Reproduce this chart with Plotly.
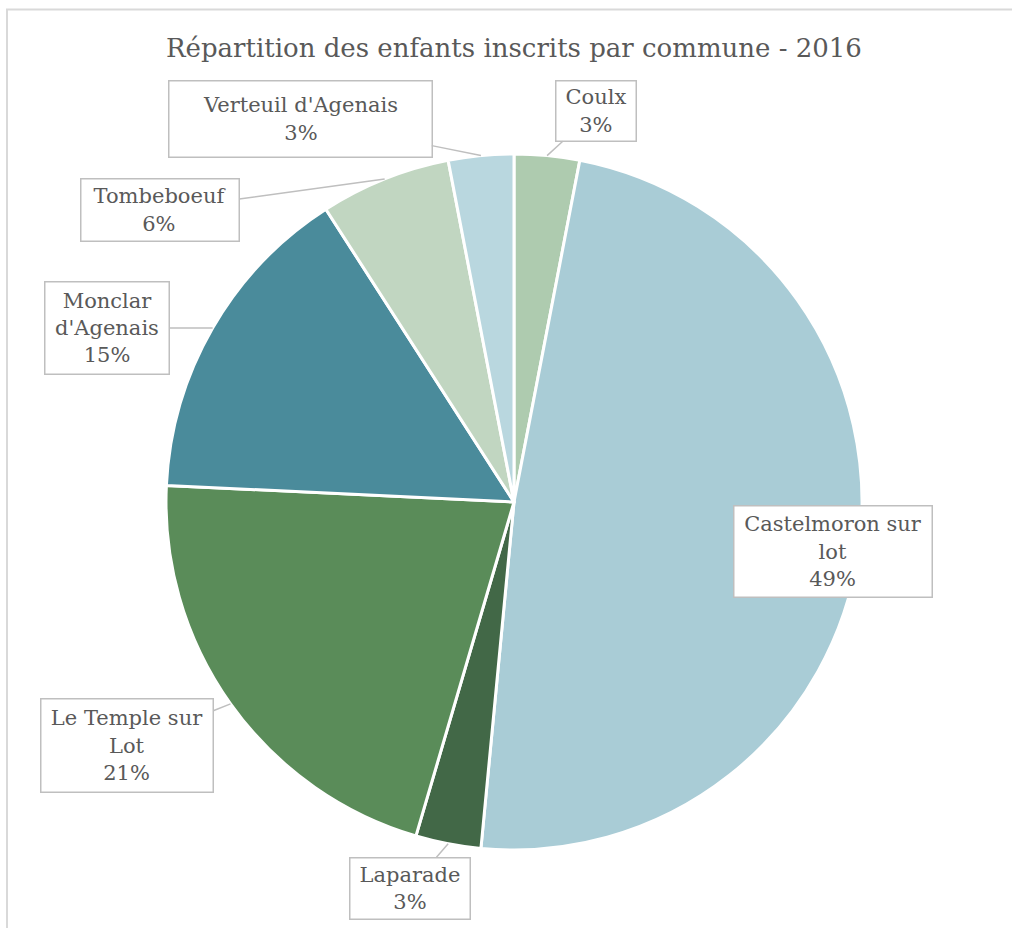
import math
import plotly.graph_objects as go

communes = ["Coulx", "Castelmoron sur lot", "Laparade", "Le Temple sur Lot",
            "Monclar d'Agenais", "Tombeboeuf", "Verteuil d'Agenais"]
enfants = [1, 16, 1, 7, 5, 2, 1]
pourcentages = [3, 49, 3, 21, 15, 6, 3]  # as printed on the chart
label_text = ["Coulx", "Castelmoron sur<br>lot", "Laparade", "Le Temple sur<br>Lot",
              "Monclar<br>d'Agenais", "Tombeboeuf", "Verteuil d'Agenais"]
colors = ["#AECBAF", "#A9CCD6", "#426847", "#5A8C59", "#4A8B9B", "#C1D6C1", "#B9D7DF"]

W, H = 1012, 928
CX, CY, R = 514, 502, 348  # pie center / radius in pixels

# callout box centers (pixels) and sizes
box_center = [(596, 111), (833, 551), (410, 888), (127, 745), (107, 328), (160, 210), (300, 119)]
box_size = [(82, 62), (200, 93), (122, 63), (174, 95), (126, 94), (160, 64), (265, 78)]
has_arrow = [True, False, True, True, True, True, True]

FONT = "DejaVu Serif"
TXT = "#595959"

fig = go.Figure(go.Pie(
    labels=communes, values=enfants, sort=False, direction="clockwise", rotation=0,
    marker=dict(colors=colors, line=dict(color="white", width=3)),
    textinfo="none", showlegend=False, hoverinfo="label+percent",
    domain=dict(x=[(CX - R) / W, (CX + R) / W], y=[1 - (CY + R) / H, 1 - (CY - R) / H]),
))

total = sum(enfants)
cum = 0
annotations = []
for i, v in enumerate(enfants):
    mid = (cum + v / 2) / total * 2 * math.pi
    cum += v
    tx = CX + R * math.sin(mid)
    ty = CY - R * math.cos(mid)
    bx, by = box_center[i]
    bw, bh = box_size[i]
    text = f"{label_text[i]}<br>{pourcentages[i]}%"
    common = dict(text=text, font=dict(family=FONT, size=21, color=TXT),
                  bordercolor="#BFBFBF", borderwidth=1.5, borderpad=0,
                  bgcolor="white", width=bw - 3, height=bh - 3, align="center", valign="middle")
    if has_arrow[i]:
        annotations.append(dict(x=tx / W, y=1 - ty / H, xref="paper", yref="paper",
                                ax=bx - tx, ay=by - ty, showarrow=True, arrowhead=0,
                                arrowwidth=1.5, arrowcolor="#BFBFBF", standoff=0, **common))
    else:
        annotations.append(dict(x=bx / W, y=1 - by / H, xref="paper", yref="paper",
                                showarrow=False, xanchor="center", yanchor="middle", **common))

annotations.append(dict(text="Répartition des enfants inscrits par commune - 2016",
                        x=514 / W, y=1 - 48 / H, xref="paper", yref="paper",
                        showarrow=False, xanchor="center", yanchor="middle",
                        font=dict(family=FONT, size=26, color=TXT)))

fig.update_layout(
    width=W, height=H, margin=dict(l=0, r=0, t=0, b=0),
    paper_bgcolor="white", plot_bgcolor="white",
    annotations=annotations,
    shapes=[dict(type="rect", xref="paper", yref="paper", x0=7 / W, x1=1.02,
                 y0=-0.02, y1=1 - 9.5 / H, line=dict(color="#D9D9D9", width=2))],
)

fig.write_html("out.html", config={"displayModeBar": False},
               post_script="document.body.style.margin='0';")
